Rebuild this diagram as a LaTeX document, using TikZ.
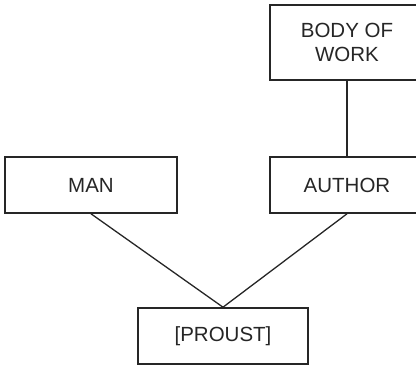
\documentclass[tikz,border=0pt]{standalone}
\usepackage{fontspec}
\setmainfont{Liberation Sans}
\begin{document}
\begin{tikzpicture}[x=1pt,y=-1pt,
  box/.style={draw=black!85, line width=1.6pt, inner sep=0pt,
    align=center, font=\fontsize{20.5}{24.5}\selectfont, text=black!85},
  link/.style={draw=black!85, line width=1.3pt}]
  \useasboundingbox (0,0) rectangle (416,366);
  \clip (0,0) rectangle (416,366);
  % the right-hand column runs past the right edge of the page
  \node[box, minimum width=154pt, minimum height=75pt] (body) at (347,42.5) {BODY OF\\WORK};
  \node[box, minimum width=172pt, minimum height=56pt] (man) at (91,185) {MAN};
  \node[box, minimum width=154pt, minimum height=56pt] (author) at (347,185) {AUTHOR};
  \node[box, minimum width=170pt, minimum height=56pt] (proust) at (223,336) {[PROUST]};
  \draw[link] (body.south) -- (author.north);
  \draw[link] (man.south) -- (proust.north);
  \draw[link] (author.south) -- (proust.north);
\end{tikzpicture}
\end{document}
